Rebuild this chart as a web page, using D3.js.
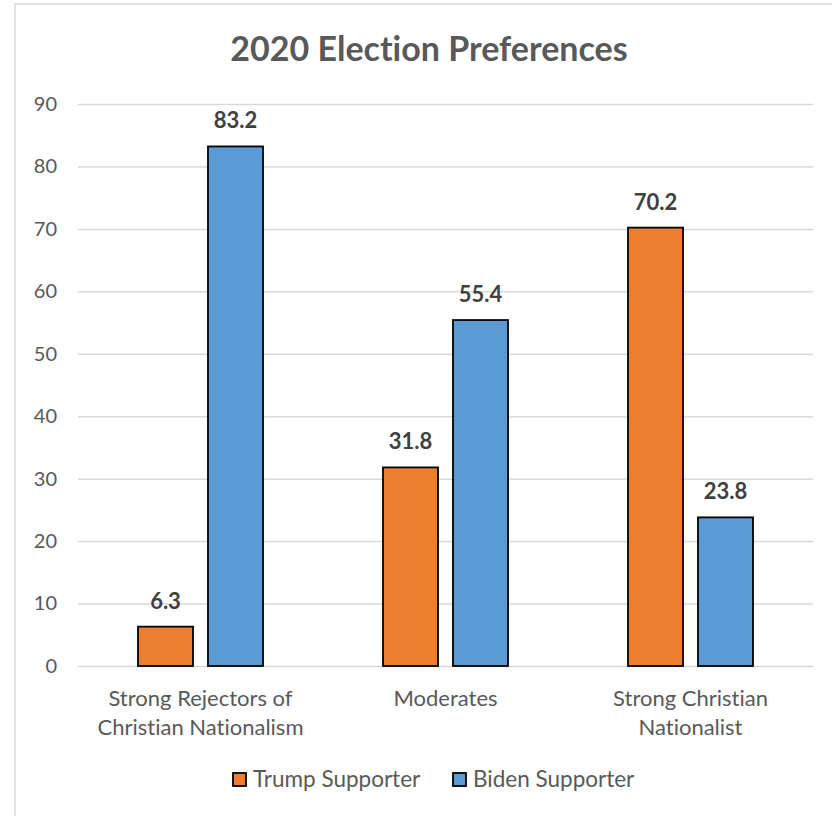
<!DOCTYPE html>
<html>
<head>
<meta charset="utf-8">
<script src="https://cdn.jsdelivr.net/npm/d3@7"></script>
<style>
  body { margin: 0; background: #fff; }
  text { font-family: Lato, "Open Sans", sans-serif; font-variant-ligatures: none; }
</style>
</head>
<body>
<div class="chart"></div>
<script>
// data
var categories = [["Strong Rejectors of", "Christian Nationalism"], ["Moderates"], ["Strong Christian", "Nationalist"]];
var seriesNames = ["Trump Supporter", "Biden Supporter"];
var trump = [6.3, 31.8, 70.2];
var biden = [83.2, 55.4, 23.8];
var yTicks = [0, 10, 20, 30, 40, 50, 60, 70, 80, 90];
var colors = ["#ED7D31", "#5B9BD5"];

var W = 832, H = 816;
var plotLeft = 78, plotRight = 813, plotTop = 104, plotBottom = 666;

var svg = d3.select(".chart").append("svg")
    .attr("width", W)
    .attr("height", H);

// outer frame
svg.append("rect")
    .attr("x", 15).attr("y", 4)
    .attr("width", W).attr("height", H)
    .attr("fill", "none")
    .attr("stroke", "#d9d9d9")
    .attr("stroke-width", 1.5);

svg.append("text")
    .attr("x", 429).attr("y", 61)
    .attr("text-anchor", "middle")
    .attr("font-size", 34)
    .attr("font-weight", "bold")
    .attr("fill", "#595959")
    .text("2020 Election Preferences");

var x0 = d3.scaleBand()
    .domain(d3.range(categories.length))
    .range([plotLeft, plotRight]);

var x1 = d3.scaleBand()
    .domain(d3.range(seriesNames.length))
    .range([0, x0.bandwidth()])
    .paddingInner(0.214)
    .paddingOuter(0.857);

var y = d3.scaleLinear()
    .domain([0, 90])
    .range([plotBottom, plotTop]);

// gridlines + tick labels
var yAxis = d3.axisLeft(y)
    .tickValues(yTicks)
    .tickSize(-(plotRight - plotLeft))
    .tickPadding(21);

var gy = svg.append("g")
    .attr("transform", "translate(" + plotLeft + ",0)")
    .call(yAxis);
gy.select(".domain").remove();
gy.selectAll(".tick line").attr("stroke", "#d9d9d9").attr("stroke-width", 1.5);
gy.selectAll(".tick text")
    .attr("font-size", 20)
    .attr("fill", "#595959")
    .style("font-family", "Lato, sans-serif");

var rows = categories.map(function (c, i) {
    return [trump[i], biden[i]];
});

var groups = svg.selectAll(".grp")
    .data(rows)
    .enter()
    .append("g")
    .attr("class", "grp")
    .attr("transform", function (d, i) { return "translate(" + x0(i) + ",0)"; });

groups.selectAll("rect")
    .data(function (d) { return d; })
    .enter()
    .append("rect")
    .attr("x", function (d, j) { return x1(j); })
    .attr("y", function (d) { return y(d); })
    .attr("width", x1.bandwidth())
    .attr("height", function (d) { return y(0) - y(d); })
    .attr("fill", function (d, j) { return colors[j]; })
    .attr("stroke", "#000")
    .attr("stroke-width", 1.8);

groups.selectAll(".lbl")
    .data(function (d) { return d; })
    .enter()
    .append("text")
    .attr("class", "lbl")
    .attr("x", function (d, j) { return x1(j) + x1.bandwidth() / 2; })
    .attr("y", function (d) { return y(d) - 18; })
    .attr("text-anchor", "middle")
    .attr("font-size", 22)
    .attr("font-weight", "bold")
    .attr("fill", "#404040")
    .text(function (d) { return d.toFixed(1); });

// category labels
svg.selectAll(".cat")
    .data(categories)
    .enter()
    .append("text")
    .attr("class", "cat")
    .attr("text-anchor", "middle")
    .attr("font-size", 22)
    .attr("fill", "#595959")
    .each(function (d, i) {
        var t = d3.select(this);
        d.forEach(function (line, k) {
            t.append("tspan")
                .attr("x", x0(i) + x0.bandwidth() / 2)
                .attr("y", 706 + k * 29)
                .text(line);
        });
    });

// legend
var legendX = [233, 453];
var leg = svg.selectAll(".leg")
    .data(seriesNames)
    .enter()
    .append("g")
    .attr("class", "leg")
    .attr("transform", function (d, i) { return "translate(" + legendX[i] + ",773)"; });

leg.append("rect")
    .attr("width", 13).attr("height", 13)
    .attr("fill", function (d, i) { return colors[i]; })
    .attr("stroke", "#000")
    .attr("stroke-width", 1.8);

leg.append("text")
    .attr("x", 20).attr("y", 14)
    .attr("font-size", 22.5)
    .attr("fill", "#595959")
    .text(function (d) { return d; });
</script>
</body>
</html>
